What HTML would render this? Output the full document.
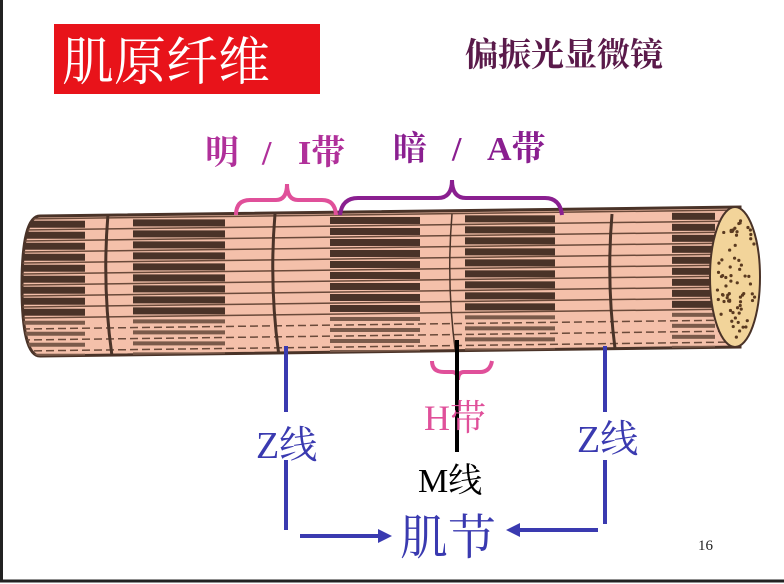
<!DOCTYPE html>
<html><head><meta charset="utf-8"><style>
html,body{margin:0;padding:0;background:#fff}
svg{display:block}
text{font-family:"Liberation Serif","Noto Serif CJK SC","Noto Sans CJK SC",serif}
</style></head><body>
<svg id="s" width="784" height="584" viewBox="0 0 784 584" xmlns="http://www.w3.org/2000/svg">
<rect x="0" y="0" width="784" height="584" fill="#fff"/>
<rect x="1.5" y="-2" width="790" height="583" fill="none" stroke="#222" stroke-width="3"/>
<rect x="54" y="24" width="266" height="70" fill="#e8131a"/>
<text x="62" y="80" font-size="52" fill="#fff" font-family="Noto Sans CJK SC,sans-serif">肌原纤维</text>
<text x="465" y="66" font-size="33" fill="#5a1a4a" font-weight="bold" font-family="Noto Sans CJK SC,sans-serif">偏振光显微镜</text>
<g font-size="34" fill="#b0309a" font-weight="bold"><text x="205" y="164">明</text><text x="262" y="164">/</text><text x="298" y="164">I带</text></g>
<g font-size="34" fill="#8a1f90" font-weight="bold"><text x="393" y="160">暗</text><text x="452" y="160">/</text><text x="487" y="160">A带</text></g>
<defs><clipPath id="cyl"><path d="M40 216 L740 207 L740 347 L40 356 Q22 356 22 286 Q22 216 40 216Z"/></clipPath></defs>
<path d="M40 216 L740 207 L740 347 L40 356 Q22 356 22 286 Q22 216 40 216Z" fill="#f4c0aa" stroke="#4a3328" stroke-width="3"/>
<g id="bars" clip-path="url(#cyl)"></g>
<ellipse cx="735" cy="277" rx="25" ry="70" fill="#f2d49a" stroke="#4a3328" stroke-width="2"/>
<g id="dots"></g>
<path d="M236 215 Q236 200 250 200 L276 200 Q287 200 287 184 Q287 200 298 200 L322 200 Q335 200 336 215" fill="none" stroke="#e0509a" stroke-width="4"/>
<path d="M340 215 Q342 198 358 198 L438 198 Q452 198 452 180 Q452 198 466 198 L545 198 Q560 198 562 215" fill="none" stroke="#8a1f90" stroke-width="4"/>
<path d="M432 361 Q432 372 444 372 L452 372 Q458 372 458 380 Q458 372 464 372 L480 372 Q490 372 492 361" fill="none" stroke="#e0509a" stroke-width="4"/>
<line x1="457" y1="340" x2="457" y2="452" stroke="#000" stroke-width="4"/>
<text x="424" y="430" font-size="36" fill="#e0509a">H带</text>
<text x="418" y="492" font-size="34" fill="#000">M线</text>
<g stroke="#3a3ab0" stroke-width="4">
<line x1="286" y1="346" x2="286" y2="412"/><line x1="286" y1="460" x2="286" y2="530"/>
<line x1="300" y1="536" x2="382" y2="536"/>
<line x1="605" y1="346" x2="605" y2="412"/><line x1="605" y1="460" x2="605" y2="524"/>
<line x1="598" y1="530" x2="520" y2="530"/>
</g>
<polygon points="392,536 378,529 378,543" fill="#3a3ab0"/>
<polygon points="506,530 520,523 520,537" fill="#3a3ab0"/>
<text x="256" y="458" font-size="38" fill="#3a3ab0">Z线</text>
<text x="577" y="452" font-size="38" fill="#3a3ab0">Z线</text>
<text x="400" y="554" font-size="48" fill="#3a3ab0" font-family="Noto Sans CJK SC,sans-serif">肌节</text>
<text x="698" y="550" font-size="15" fill="#222">16</text>
</svg>
<script>
var ns="http://www.w3.org/2000/svg",g=document.getElementById('bars');
function el(t,a,p){var e=document.createElementNS(ns,t);for(var k in a)e.setAttribute(k,a[k]);(p||g).appendChild(e);return e;}
var bands=[[22,85],[133,225],[330,420],[465,555],[672,715]];
for(var y=219;y<356;y+=11){
 el('line',{x1:22,y1:y,x2:740,y2:y-9,stroke:'#6a4a3a','stroke-width':1.5,'stroke-dasharray':y>318?'8 4':'none'});
 var off=(y-219)*0;
 if(y<318) bands.forEach(function(b){el('rect',{x:b[0],y:y+2-(b[0]/740)*9,width:b[1]-b[0],height:7,fill:'#4a3328'});});
 else bands.forEach(function(b){el('rect',{x:b[0],y:y+3-(b[0]/740)*9,width:b[1]-b[0],height:4,fill:'#7a5a4a'});});
}
[108,275,452,612].forEach(function(x){el('path',{d:'M'+x+' 214 Q'+(x-6)+' 285 '+(x+4)+' 356',fill:'none',stroke:'#4a3328','stroke-width':x==452?1.5:3});});
var d=document.getElementById('dots');
for(var i=0;i<70;i++){var a=Math.random()*6.28,r=Math.sqrt(Math.random());el('circle',{cx:737+Math.cos(a)*r*20,cy:277+Math.sin(a)*r*64,r:1.6,fill:'#5a3a20'},d);}
</script>
</body></html>
